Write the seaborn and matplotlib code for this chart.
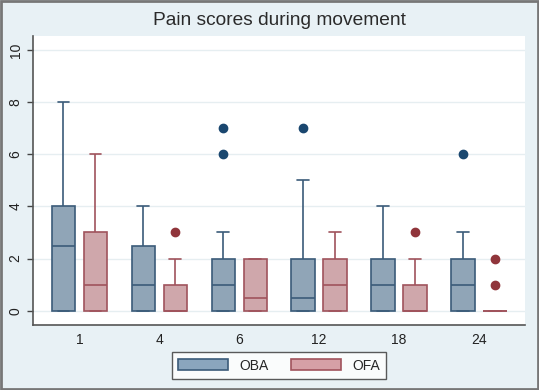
import pandas as pd
import numpy as np
import seaborn as sns
import matplotlib.pyplot as plt
from matplotlib.patches import Patch

# hours after surgery (x categories)
times = ['1', '4', '6', '12', '18', '24']
groups = ['OBA', 'OFA']

oba_1 = [0, 0, 0, 0, 2, 3, 4, 4, 5, 8]
oba_4 = [0, 0, 0, 1, 2, 3, 4]
oba_6 = [0, 0, 0, 0, 1, 1, 1, 1, 2, 2, 3, 6, 7]
oba_12 = [0, 0, 0, 0, 0, 0, 1, 1, 2, 2, 5, 7]
oba_18 = [0, 0, 0, 1, 1, 2, 2, 3, 4]
oba_24 = [0, 0, 0, 1, 1, 1, 2, 3, 6]

ofa_1 = [0, 0, 0, 1, 1, 2, 3, 5, 6]
ofa_4 = [0, 0, 0, 0, 0, 1, 1, 2, 3]
ofa_6 = [0, 0, 0, 0, 0, 1, 2, 2, 2, 2]
ofa_12 = [0, 0, 0, 1, 1, 1, 2, 2, 3]
ofa_18 = [0, 0, 0, 0, 0, 1, 1, 2, 3]
ofa_24 = [0, 0, 0, 0, 0, 0, 0, 1, 2]

oba = [oba_1, oba_4, oba_6, oba_12, oba_18, oba_24]
ofa = [ofa_1, ofa_4, ofa_6, ofa_12, ofa_18, ofa_24]

rows = []
for g, series in zip(groups, [oba, ofa]):
    for t, vals in zip(times, series):
        for v in vals:
            rows.append({'time': t, 'group': g, 'score': v})
df = pd.DataFrame(rows)

fill = {'OBA': '#8aa5bd', 'OFA': '#d6a0a6'}
edge = {'OBA': '#3b5b79', 'OFA': '#a0535c'}
dot = {'OBA': '#1a476f', 'OFA': '#90353b'}

bg = '#e8f1f5'
sns.set_style('white')
plt.rcParams['font.family'] = ['Liberation Sans', 'DejaVu Sans']

fig = plt.figure(figsize=(5.39, 3.90), dpi=100, facecolor=bg)
ax = fig.add_axes([0.0612, 0.1667, 0.9128, 0.741])
ax.set_facecolor('white')

for g in groups:
    sns.boxplot(data=df[df['group'] == g], x='time', y='score', hue='group',
                order=times, hue_order=groups, palette=fill, dodge=True,
                width=0.8, gap=0.27, linecolor=edge[g], linewidth=1.2,
                whis=1.5, legend=False, ax=ax,
                flierprops=dict(marker='o', markersize=6,
                                markerfacecolor=dot[g], markeredgecolor=dot[g]))

ax.set_ylim(-0.55, 10.54)
ax.set_xlim(-0.58, 5.575)
ax.set_yticks([0, 2, 4, 6, 8, 10])
ax.yaxis.grid(True, color='#e6eef1', linewidth=1)
ax.set_axisbelow(True)
ax.tick_params(axis='y', labelrotation=90, length=4, width=1, color='#444444',
               labelsize=10, labelcolor='#222222', left=True)
ax.tick_params(axis='x', length=0, labelsize=10, labelcolor='#222222', pad=6)
for lab in ax.get_yticklabels():
    lab.set_va('center')
ax.set_xlabel('')
ax.set_ylabel('')
for s in ['top', 'right']:
    ax.spines[s].set_visible(False)
for s in ['left', 'bottom']:
    ax.spines[s].set_color('#555555')
    ax.spines[s].set_linewidth(1.2)

fig.suptitle('Pain scores during movement', x=0.5176, y=0.968, fontsize=13.8,
             color='#2a2a2a')

handles = [Patch(facecolor=fill[g], edgecolor=edge[g], linewidth=1.2, label=g)
           for g in groups]
leg = fig.legend(handles=handles, loc='center', bbox_to_anchor=(0.5176, 0.0628),
                 ncol=2, fontsize=10, frameon=True, fancybox=False,
                 handlelength=3.6, handleheight=0.9, handletextpad=0.8,
                 columnspacing=1.6, borderpad=0.45)
leg.get_frame().set_edgecolor('#333333')
leg.get_frame().set_facecolor('white')
leg.get_frame().set_linewidth(1)

# outer frame
fig.patches.append(plt.Rectangle((0.002, 0.002), 0.996, 0.996, transform=fig.transFigure,
                                 fill=False, edgecolor='#777777', linewidth=2))

fig.savefig('out.png', dpi=100, facecolor=bg)
